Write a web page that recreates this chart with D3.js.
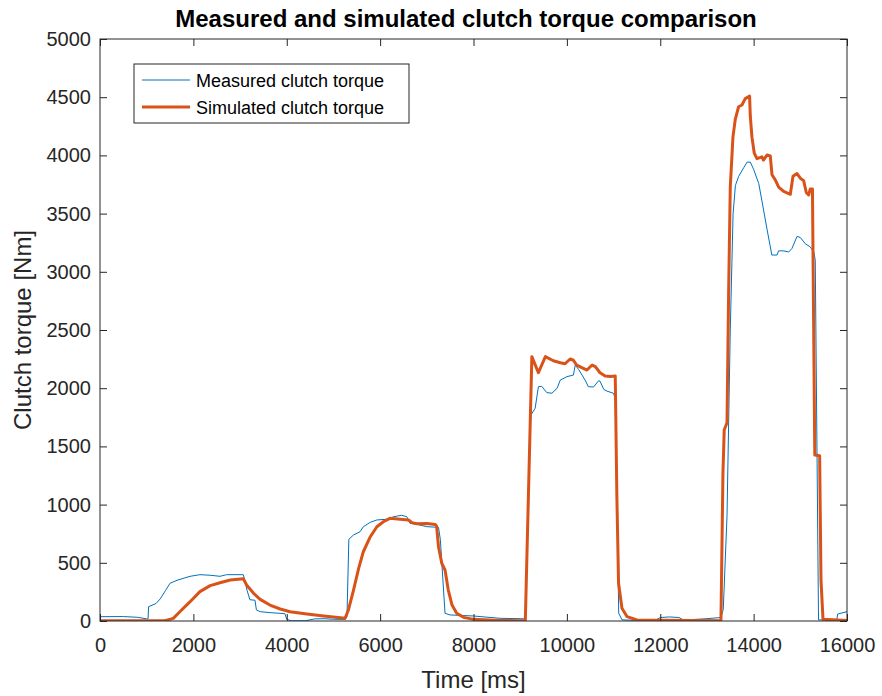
<!DOCTYPE html>
<html>
<head>
    <meta charset="utf-8">
    <title>Measured and simulated clutch torque comparison</title>
    <script src="https://d3js.org/d3.v7.min.js"></script>
    <style>
        body { margin: 0; background: #fff; }
        svg { font-family: "Liberation Sans", Arial, sans-serif; }
    </style>
</head>
<body>
<svg id="chart" width="882" height="696"></svg>
<script>
    // measured clutch torque [time ms, torque Nm]
    var measured = [
        [0,37],[500,38],[800,32],[1000,18],[1030,20],[1040,123],[1200,150],[1290,190],[1400,260],[1500,324],
        [1650,350],[1930,384],[2140,398],[2360,393],[2570,384],[2710,398],[3070,398],[3110,335],[3150,263],
        [3210,183],[3320,178],[3350,95],[3430,80],[3640,72],[3960,63],[4000,14],[4100,2],[4400,2],[4600,18],
        [4800,20],[5000,15],[5250,14],[5290,40],[5330,702],[5430,739],[5570,767],[5640,810],[5790,848],
        [5930,868],[6140,874],[6290,896],[6460,908],[6570,896],[6640,839],[6790,830],[7000,810],[7250,805],
        [7290,700],[7390,66],[7500,52],[8000,43],[8570,23],[9000,20],[9110,18],[9220,1700],[9230,1770],
        [9320,1827],[9390,2013],[9460,2016],[9570,1962],[9680,1957],[9790,1999],[9860,2070],[10000,2099],
        [10140,2113],[10180,2199],[10250,2162],[10390,2070],[10460,2013],[10570,2010],[10680,2064],[10710,2060],
        [10790,1990],[10860,1975],[11000,1956],[11040,1900],[11110,67],[11180,10],[11500,5],[11900,8],
        [12000,30],[12200,35],[12400,30],[12500,8],[13000,20],[13300,30],[13350,100],[13430,900],[13500,2500],
        [13560,3500],[13610,3742],[13680,3820],[13790,3896],[13860,3942],[13930,3942],[14000,3880],[14110,3758],
        [14180,3605],[14290,3359],[14390,3144],[14500,3144],[14535,3180],[14640,3180],[14750,3170],[14820,3200],
        [14930,3304],[15000,3295],[15110,3240],[15210,3215],[15290,3170],[15320,3100],[15390,10],[15780,5],
        [15800,60],[16000,80]
    ];

    // simulated clutch torque [time ms, torque Nm]
    var simulated = [
        [0,3],[1390,3],[1570,23],[1710,80],[1930,166],[2140,252],[2360,304],[2570,329],[2790,352],[3070,363],
        [3140,309],[3290,238],[3430,186],[3640,137],[3860,103],[4070,80],[4430,60],[4790,43],[5250,23],
        [5320,94],[5430,266],[5540,452],[5640,595],[5790,724],[5930,810],[6070,853],[6210,882],[6430,874],
        [6610,868],[6680,845],[6790,836],[7000,838],[7180,830],[7210,815],[7250,638],[7320,496],[7390,438],
        [7460,266],[7540,137],[7640,66],[7790,31],[8000,14],[8570,5],[9110,3],[9250,2271],[9390,2133],
        [9540,2271],[9710,2236],[9860,2219],[9960,2210],[10070,2251],[10140,2240],[10210,2199],[10430,2156],
        [10540,2199],[10610,2185],[10710,2133],[10820,2105],[10930,2100],[11036,2105],[11071,1068],[11107,324],
        [11180,109],[11290,37],[11500,9],[13300,3],[13343,1272],[13370,1641],[13430,1703],[13464,2807],
        [13500,3728],[13557,4157],[13607,4310],[13678,4418],[13750,4433],[13821,4488],[13914,4509],[13928,4341],
        [13964,4157],[14014,4019],[14071,3972],[14178,3988],[14210,3960],[14286,4003],[14357,3995],[14393,3835],
        [14464,3789],[14536,3728],[14643,3691],[14786,3666],[14843,3820],[14929,3844],[15000,3804],[15071,3783],
        [15128,3681],[15178,3660],[15214,3712],[15260,3712],[15310,1426],[15414,1420],[15443,352],[15486,15],
        [16000,5]
    ];

    var xTicks = [0,2000,4000,6000,8000,10000,12000,14000,16000];
    var yTicks = [0,500,1000,1500,2000,2500,3000,3500,4000,4500,5000];
    var seriesNames = ["Measured clutch torque", "Simulated clutch torque"];
    var seriesColors = ["#0072BD", "#D95319"];
    var seriesWidths = [1, 3];

    var margin = {left: 100, top: 39, right: 35, bottom: 75};
    var width = 882 - margin.left - margin.right;
    var height = 696 - margin.top - margin.bottom;

    var svg = d3.select("#chart");
    var g = svg.append("g").attr("transform", "translate(" + margin.left + "," + margin.top + ")");

    var x = d3.scaleLinear().domain([0, 16000]).range([0, width]);
    var y = d3.scaleLinear().domain([0, 5000]).range([height, 0]);

    g.append("defs").append("clipPath").attr("id", "clip")
        .append("rect").attr("width", width).attr("height", height);

    var line = d3.line()
        .x(function(d) { return x(d[0]); })
        .y(function(d) { return y(d[1]); });

    var lines = g.append("g").attr("clip-path", "url(#clip)");
    [measured, simulated].forEach(function(data, i) {
        lines.append("path")
            .datum(data)
            .attr("d", line)
            .style("fill", "none")
            .style("stroke", seriesColors[i])
            .style("stroke-width", seriesWidths[i])
            .style("stroke-linejoin", "round");
    });

    function styleAxis(sel) {
        sel.select(".domain").remove();
        sel.selectAll("line").attr("stroke", "#262626");
        sel.selectAll("text").attr("fill", "#262626").style("font-size", "20px");
    }

    g.append("g").attr("transform", "translate(0," + height + ")")
        .call(d3.axisBottom(x).tickValues(xTicks).tickSize(-7).tickPadding(17).tickFormat(d3.format("d")))
        .call(styleAxis);
    g.append("g")
        .call(d3.axisTop(x).tickValues(xTicks).tickSize(-7).tickFormat(""))
        .call(styleAxis);
    g.append("g")
        .call(d3.axisLeft(y).tickValues(yTicks).tickSize(-7).tickPadding(9).tickFormat(d3.format("d")))
        .call(styleAxis);
    g.append("g").attr("transform", "translate(" + width + ",0)")
        .call(d3.axisRight(y).tickValues(yTicks).tickSize(-7).tickFormat(""))
        .call(styleAxis);

    g.append("rect")
        .attr("width", width).attr("height", height)
        .style("fill", "none").style("stroke", "#262626").style("stroke-width", 1);

    svg.append("text")
        .attr("x", 466).attr("y", 27)
        .attr("text-anchor", "middle")
        .style("font-size", "24px").style("font-weight", "bold")
        .text("Measured and simulated clutch torque comparison");

    svg.append("text")
        .attr("x", margin.left + width / 2).attr("y", 688)
        .attr("text-anchor", "middle")
        .attr("fill", "#262626")
        .style("font-size", "24px")
        .text("Time [ms]");

    svg.append("text")
        .attr("transform", "translate(31," + (margin.top + height / 2) + ") rotate(-90)")
        .attr("text-anchor", "middle")
        .attr("fill", "#262626")
        .style("font-size", "24px")
        .text("Clutch torque [Nm]");

    // legend
    var legend = svg.append("g").attr("transform", "translate(134,64)");
    legend.append("rect")
        .attr("width", 275).attr("height", 59)
        .style("fill", "#fff").style("stroke", "#262626").style("stroke-width", 1);
    seriesNames.forEach(function(name, i) {
        var ly = 16 + i * 27;
        legend.append("line")
            .attr("x1", 8).attr("x2", 56).attr("y1", ly).attr("y2", ly)
            .style("stroke", seriesColors[i]).style("stroke-width", seriesWidths[i]);
        legend.append("text")
            .attr("x", 62).attr("y", ly + 7)
            .style("font-size", "18px").attr("fill", "#000")
            .text(name);
    });
</script>
</body>
</html>
